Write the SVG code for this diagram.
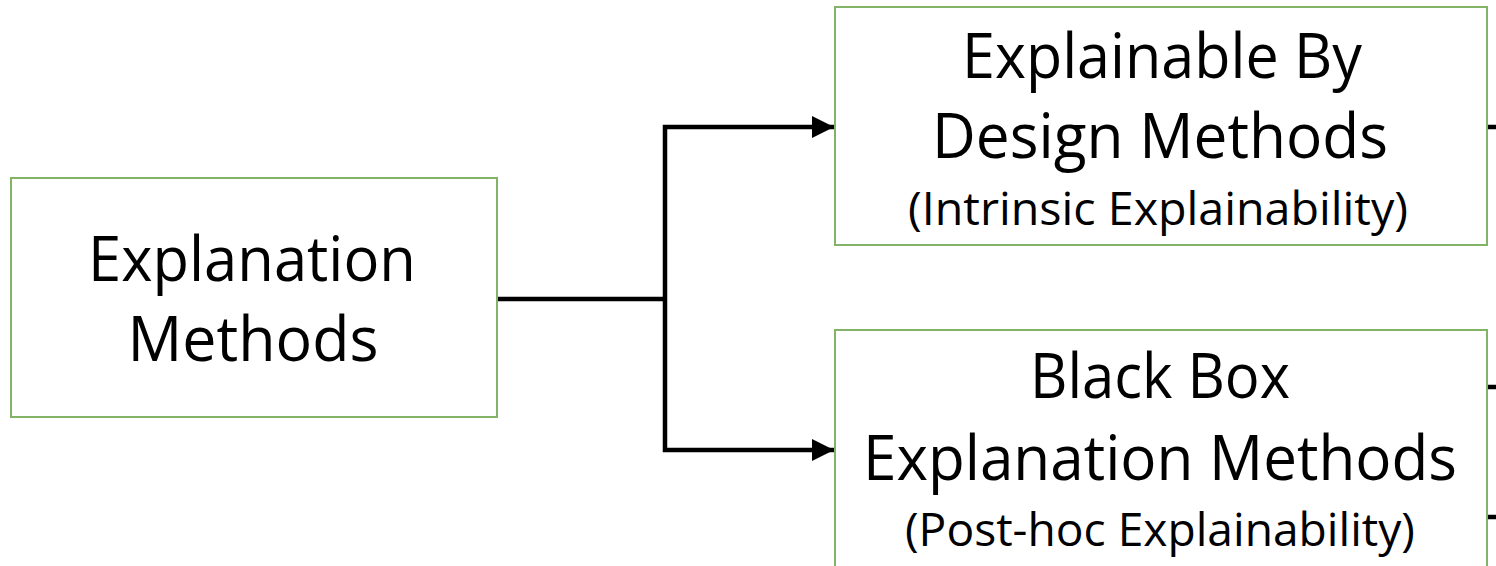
<svg xmlns="http://www.w3.org/2000/svg" width="1496" height="566" viewBox="0 0 1496 566">
<style>
.box{fill:#ffffff;stroke:#82b366;stroke-width:2}
.t{font-family:"Open Sans","Liberation Sans",sans-serif;fill:#000;text-anchor:middle}
.big{font-size:62px}
.small{font-size:45px}
.conn{fill:none;stroke:#000;stroke-width:4.5}
</style>
<defs>
<marker id="arr" viewBox="0 0 10 10" refX="10" refY="5" markerWidth="5" markerHeight="5" markerUnits="strokeWidth" orient="auto">
<path d="M0,0 L10,5 L0,10 z" fill="#000"/>
</marker>
</defs>
<rect width="1496" height="566" fill="#ffffff"/>
<g id="connectors">
<path class="conn" d="M497,299 H665"/>
<path class="conn" d="M665,299 V127 H834" marker-end="url(#arr)"/>
<path class="conn" d="M665,299 V450 H834" marker-end="url(#arr)"/>
<path class="conn" d="M1487,127 H1496"/>
<path class="conn" d="M1487,387 H1496"/>
<path class="conn" d="M1487,517 H1496"/>
</g>
<g id="node-explanation-methods">
<rect class="box" x="11" y="178" width="486" height="239"/>
<text class="t big" x="252" y="281" textLength="328" lengthAdjust="spacingAndGlyphs">Explanation</text>
<text class="t big" x="253" y="361" textLength="251" lengthAdjust="spacingAndGlyphs">Methods</text>
</g>
<g id="node-explainable-by-design">
<rect class="box" x="835" y="7" width="652" height="238"/>
<text class="t big" x="1162" y="78" textLength="400" lengthAdjust="spacingAndGlyphs">Explainable By</text>
<text class="t big" x="1160" y="158" textLength="456" lengthAdjust="spacingAndGlyphs">Design Methods</text>
<text class="t small" x="1158" y="225" textLength="500" lengthAdjust="spacingAndGlyphs">(Intrinsic Explainability)</text>
</g>
<g id="node-black-box">
<rect class="box" x="835" y="330" width="652" height="250"/>
<text class="t big" x="1160" y="398" textLength="260" lengthAdjust="spacingAndGlyphs">Black Box</text>
<text class="t big" x="1160" y="480" textLength="594" lengthAdjust="spacingAndGlyphs">Explanation Methods</text>
<text class="t small" x="1160" y="546" textLength="510" lengthAdjust="spacingAndGlyphs">(Post-hoc Explainability)</text>
</g>
</svg>
